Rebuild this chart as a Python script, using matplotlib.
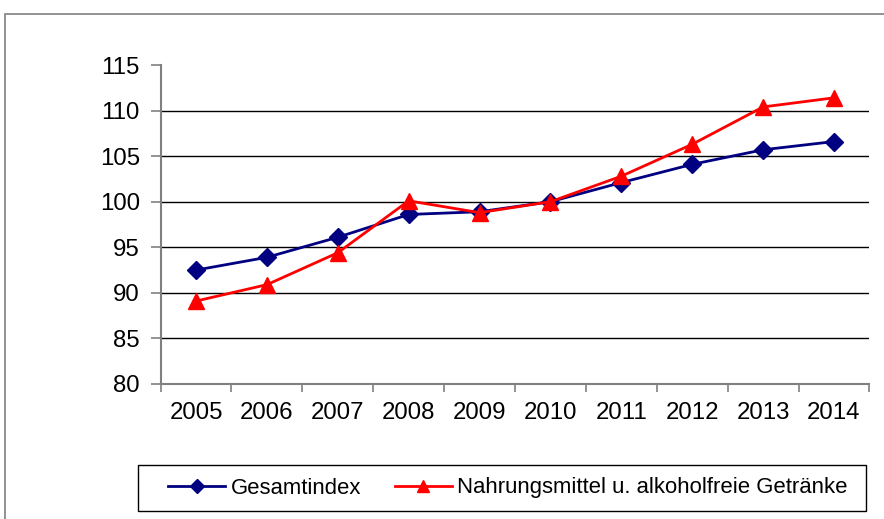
import matplotlib
matplotlib.use("Agg")
import matplotlib.pyplot as plt
from matplotlib.patches import Rectangle

years = ["2005", "2006", "2007", "2008", "2009", "2010", "2011", "2012", "2013", "2014"]
gesamtindex = [92.5, 93.9, 96.1, 98.6, 98.9, 100.0, 102.1, 104.1, 105.7, 106.6]
nahrungsmittel = [89.1, 90.9, 94.4, 100.1, 98.8, 100.0, 102.8, 106.3, 110.4, 111.4]
yticks = [80, 85, 90, 95, 100, 105, 110, 115]
labels = ["Gesamtindex", "Nahrungsmittel u. alkoholfreie Getränke"]

plt.rcParams['font.family'] = ['Liberation Sans', 'DejaVu Sans']

W, H = 884, 519
fig = plt.figure(figsize=(W / 100, H / 100), dpi=100)
fig.patch.set_facecolor('white')

# outer chart border
fig.patches.append(Rectangle((5 / W, -0.1), 1.2, (H - 14) / H + 0.1, transform=fig.transFigure,
                             fill=False, edgecolor='#808080', lw=1.2))

left, right, top, bottom = 160.6, 869.4, 65, 384
ax = fig.add_axes([left / W, (H - bottom) / H, (right - left) / W, (bottom - top) / H])
x = list(range(len(years)))

ax.plot(x, gesamtindex, color='#000080', lw=2.0, marker='D', markersize=9, label=labels[0], zorder=3)
ax.plot(x, nahrungsmittel, color='#FF0000', lw=2.0, marker='^', markersize=11.5, label=labels[1], zorder=4)

ax.set_xlim(-0.5, len(years) - 0.5)
ax.set_ylim(yticks[0], yticks[-1])
ax.set_yticks(yticks)
ax.set_yticklabels([str(v) for v in yticks], fontsize=17.3)
ax.set_xticks(x)
ax.set_xticklabels(years, fontsize=17.3)
ax.set_xticks([i + 0.5 for i in range(-1, len(years))], minor=True)
ax.tick_params(axis='x', which='major', length=0, pad=13)
ax.tick_params(axis='x', which='minor', length=6, width=1.2, color='#808080', direction='out')
ax.tick_params(axis='y', which='major', length=7, width=1.2, color='#808080', direction='out', pad=8)

ax.yaxis.grid(True, color='black', lw=1.0)
gl = ax.get_ygridlines()
gl[-1].set_visible(False)
ax.set_axisbelow(True)

for s in ['top', 'right']:
    ax.spines[s].set_visible(False)
for s in ['left', 'bottom']:
    ax.spines[s].set_color('#808080')
    ax.spines[s].set_linewidth(1.5)

# legend frame box (as in reference)
fig.patches.append(Rectangle((138 / W, (H - 511) / H), (866 - 138) / W, (511 - 465) / H,
                             transform=fig.transFigure, fill=False, edgecolor='black', lw=1.0))
leg = fig.legend(loc='center', bbox_to_anchor=(508 / W, (H - 488) / H),
                 ncol=2, fontsize=15.9, frameon=False, handlelength=2.6, markerscale=0.75,
                 columnspacing=1.5, handletextpad=0.25, borderaxespad=0, borderpad=0)

fig.savefig('out.png', dpi=100, facecolor='white')
